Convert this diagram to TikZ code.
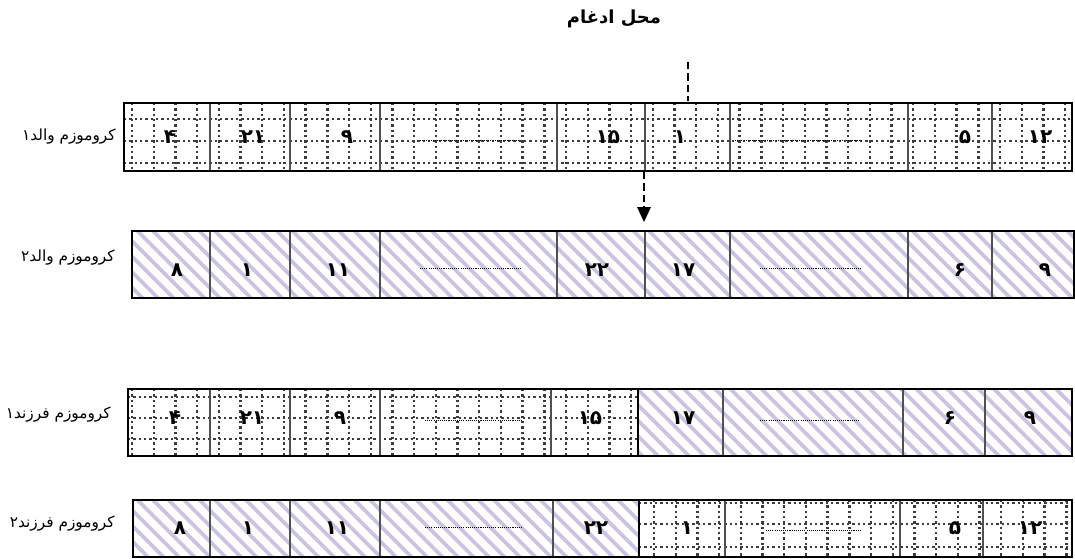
\documentclass[tikz,border=0pt]{standalone}
\usepackage{fontspec}
\TeXXeTstate=1
\newfontfamily\arabicfont[Script=Arabic]{DejaVu Sans}
\newfontfamily\digfont{DejaVu Sans}
\definecolor{lav}{RGB}{204,194,225}
\definecolor{divgray}{RGB}{80,80,80}
\definecolor{dotgray}{RGB}{60,60,60}
\tikzset{
  griddot/.style={draw=dotgray, line width=1.8pt, dash pattern=on 1.8pt off 2.2pt},
  hatchline/.style={draw=lav, line width=2.9pt},
  border/.style={draw=black, line width=1.7pt},
  divider/.style={draw=divgray, line width=1.1pt},
  fillerline/.style={draw=black, line width=0.5pt, dash pattern=on 0.8pt off 0.8pt},
  num/.style={font=\digfont\bfseries\fontsize{15}{16}\selectfont, inner sep=0pt},
  lbl/.style={font=\arabicfont\fontsize{11.5}{13}\selectfont, inner sep=0pt, anchor=east},
  connector/.style={draw=black, line width=1.3pt, dash pattern=on 5.5pt off 3pt},
}
\begin{document}
\begin{tikzpicture}[x=0.75pt,y=-0.75pt]
\useasboundingbox (0,0) rectangle (1075,558);
\fill[white] (0,0) rectangle (1075,558);

% row 1 : parent 1 (grid)
\begin{scope}
  \clip (124,103) rectangle (1072,171);
  \foreach \x in {132,153.7,...,1080} \draw[griddot] (\x,103) -- (\x,171);
  \foreach \y in {119,141,163} \draw[griddot] (124,\y) -- (1072,\y);
\end{scope}
\foreach \x in {210,290,380,557,645,730,908,992} \draw[divider] (\x,103) -- (\x,171);
\draw[border] (124,103) rectangle (1072,171);

% row 2 : parent 2 (hatch)
\begin{scope}
  \clip (132,231) rectangle (1074,298);
  \foreach \x in {60,75.5,...,1080} \draw[hatchline] (\x,231) -- ++(67,67);
\end{scope}
\foreach \x in {210,290,380,557,645,730,908,992} \draw[divider] (\x,231) -- (\x,298);
\draw[border] (132,231) rectangle (1074,298);

% row 3 : child 1
\begin{scope}
  \clip (128,389) rectangle (638,456);
  \foreach \x in {132,153.7,...,650} \draw[griddot] (\x,389) -- (\x,456);
  \foreach \y in {397,418,439} \draw[griddot] (128,\y) -- (638,\y);
\end{scope}
\begin{scope}
  \clip (638,389) rectangle (1072,456);
  \foreach \x in {560,575.5,...,1080} \draw[hatchline] (\x,389) -- ++(67,67);
\end{scope}
\foreach \x in {210,290,380,551,723,903,985} \draw[divider] (\x,389) -- (\x,456);
\draw[border] (638,389) -- (638,456);
\draw[border] (128,389) rectangle (1072,456);

% row 4 : child 2
\begin{scope}
  \clip (133,500) rectangle (639,557);
  \foreach \x in {60,75.5,...,650} \draw[hatchline] (\x,500) -- ++(60,60);
\end{scope}
\begin{scope}
  \clip (639,500) rectangle (1072,557);
  \foreach \x in {654,675.7,...,1080} \draw[griddot] (\x,500) -- (\x,557);
  \foreach \y in {503,524,547} \draw[griddot] (639,\y) -- (1072,\y);
\end{scope}
\foreach \x in {210,290,380,553,725,900,983} \draw[divider] (\x,500) -- (\x,557);
\draw[border] (639,500) -- (639,557);
\draw[border] (133,500) rectangle (1072,557);

% ---------- filler dotted lines ----------
\coordinate (f1a) at (420,140); \coordinate (f1b) at (520,140);
\coordinate (f2a) at (735,140); \coordinate (f2b) at (862,140);
\coordinate (f3a) at (420,268); \coordinate (f3b) at (522,268);
\coordinate (f4a) at (760,268); \coordinate (f4b) at (862,268);
\coordinate (f5a) at (425,420); \coordinate (f5b) at (522,420);
\coordinate (f6a) at (760,420); \coordinate (f6b) at (860,420);
\coordinate (f7a) at (425,527); \coordinate (f7b) at (522,527);
\coordinate (f8a) at (766,530); \coordinate (f8b) at (862,530);
\foreach \i in {1,...,8} \draw[fillerline] (f\i a) -- (f\i b);

% ---------- numbers ----------
\node[num] (r1c1) at (170,137) {۴};
\node[num] (r1c2) at (253,137) {۲۱};
\node[num] (r1c3) at (347,137) {۹};
\node[num] (r1c5) at (608,137) {۱۵};
\node[num] (r1c6) at (680,137) {۱};
\node[num] (r1c8) at (965,137) {۵};
\node[num] (r1c9) at (1040,137) {۱۲};

\node[num] (r2c1) at (177,270) {۸};
\node[num] (r2c2) at (247,270) {۱};
\node[num] (r2c3) at (338,270) {۱۱};
\node[num] (r2c5) at (597,270) {۲۲};
\node[num] (r2c6) at (683,270) {۱۷};
\node[num] (r2c8) at (960,270) {۶};
\node[num] (r2c9) at (1045,270) {۹};

\node[num] (r3c1) at (175,418) {۴};
\node[num] (r3c2) at (252,418) {۲۱};
\node[num] (r3c3) at (340,418) {۹};
\node[num] (r3c5) at (590,418) {۱۵};
\node[num] (r3c6) at (683,418) {۱۷};
\node[num] (r3c8) at (950,418) {۶};
\node[num] (r3c9) at (1030,418) {۹};

\node[num] (r4c1) at (180,528) {۸};
\node[num] (r4c2) at (248,528) {۱};
\node[num] (r4c3) at (337,528) {۱۱};
\node[num] (r4c5) at (596,528) {۲۲};
\node[num] (r4c6) at (687,528) {۱};
\node[num] (r4c8) at (955,528) {۵};
\node[num] (r4c9) at (1030,528) {۱۲};

% ---------- labels ----------
\node[lbl] (l1) at (116,137) {\arabicfont\beginR کروموزم والد۱\endR};
\node[lbl] (l2) at (115,258) {\arabicfont\beginR کروموزم والد۲\endR};
\node[lbl] (l3) at (111,415) {\arabicfont\beginR کروموزم فرزند۱\endR};
\node[lbl] (l4) at (115,524) {\arabicfont\beginR کروموزم فرزند۲\endR};

% ---------- title and connectors ----------
\node[font=\arabicfont\bfseries\fontsize{13.5}{15}\selectfont, inner sep=0pt] (title) at (614,19) {\arabicfont\beginR محل ادغام\endR};
\coordinate (cutTop) at (688,62);
\coordinate (cutBot) at (688,101);
\draw[connector] (cutTop) -- (cutBot);
\coordinate (arrS) at (644,172);
\coordinate (arrE) at (644,207);
\coordinate (arrTip) at (644,222);
\draw[connector] (arrS) -- (arrE);
\fill[black] (637,207) -- (651,207) -- (arrTip) -- cycle;
\end{tikzpicture}
\end{document}
